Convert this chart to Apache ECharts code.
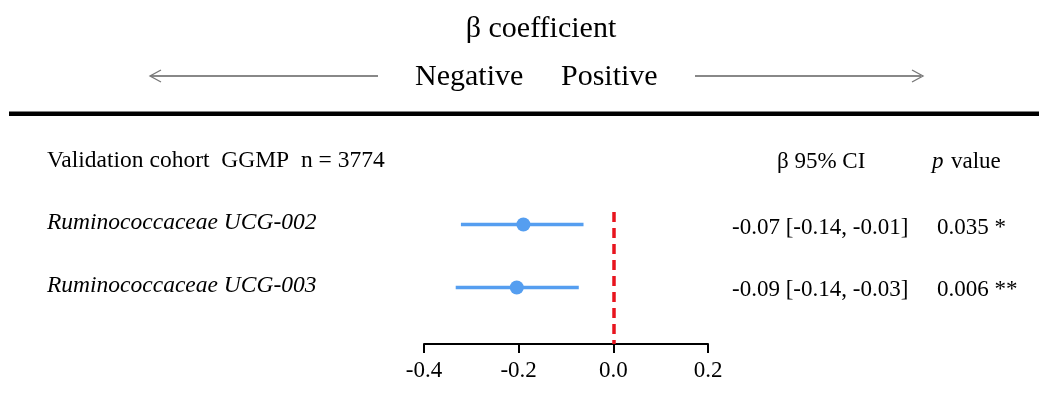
<!DOCTYPE html>
<html><head><meta charset="utf-8">
<script src="https://cdn.jsdelivr.net/npm/echarts@6/dist/echarts.min.js"></script>
<style>html,body{margin:0;padding:0;background:#fff}#c{width:1039px;height:403px}</style>
</head><body><div id="c"></div>
<script>
// ---- data ----
const rowNames = ['Ruminococcaceae UCG-002', 'Ruminococcaceae UCG-003'];
const estimates = [-0.190, -0.204];
const ciLower = [-0.322, -0.333];
const ciUpper = [-0.063, -0.073];
const ciText = ['-0.07 [-0.14, -0.01]', '-0.09 [-0.14, -0.03]'];
const pText = ['0.035 *', '0.006 **'];
const headerLeft = 'Validation cohort  GGMP  n = 3774';
const headerCI = 'β 95% CI';
const titleText = 'β coefficient';
const negText = 'Negative';
const posText = 'Positive';

// ---- chart ----
const FONT = '"Liberation Serif","Times New Roman",serif';
const BLUE = '#559ef0';
const rows = rowNames.map((n, i) => i);
const chart = echarts.init(document.getElementById('c'), null, {renderer: 'canvas'});

function txt(text, x, y, size, opts) {
  opts = opts || {};
  return {
    type: 'text', silent: true,
    style: {
      text: text, x: x, y: y,
      font: (opts.italic ? 'italic ' : '') + size + 'px ' + FONT,
      fill: '#000',
      textAlign: opts.align || 'left', align: opts.align || 'left',
      textVerticalAlign: 'middle', verticalAlign: 'middle'
    }
  };
}

const option = {
  animation: false,
  backgroundColor: '#fff',
  grid: {left: 424, right: 331, top: 212, bottom: 59, containLabel: false},
  xAxis: {
    type: 'value', min: -0.4, max: 0.2, interval: 0.2,
    axisLine: {show: true, onZero: false, lineStyle: {color: '#000', width: 2}},
    axisTick: {show: true, length: 9, lineStyle: {color: '#000', width: 2}},
    axisLabel: {color: '#000', fontFamily: FONT, fontSize: 23, margin: 15,
      formatter: v => (Math.abs(v) < 1e-9 ? 0 : v).toFixed(1)},
    splitLine: {show: false}
  },
  yAxis: {type: 'value', inverse: true, min: -0.2, max: 1.9, show: false},
  graphic: [
    txt(titleText, 541, 29, 30, {align: 'center'}),
    txt(negText, 415, 77, 30),
    txt(posText, 561, 77, 30),
    {type: 'line', silent: true, shape: {x1: 151, y1: 76, x2: 378, y2: 76}, style: {stroke: '#888', lineWidth: 1.8}},
    {type: 'polyline', silent: true, shape: {points: [[161, 70], [150, 76], [161, 82]]}, style: {stroke: '#777', lineWidth: 1.3, fill: null}},
    {type: 'line', silent: true, shape: {x1: 695, y1: 76, x2: 921, y2: 76}, style: {stroke: '#888', lineWidth: 1.8}},
    {type: 'polyline', silent: true, shape: {points: [[912, 70], [923, 76], [912, 82]]}, style: {stroke: '#777', lineWidth: 1.3, fill: null}},
    {type: 'rect', silent: true, shape: {x: 9, y: 111.5, width: 1030, height: 4.5}, style: {fill: '#000'}},
    txt(headerLeft, 47, 161, 23.5),
    txt(headerCI, 777, 162, 23),
    txt('p', 932, 162, 23, {italic: true}),
    txt('value', 951, 162, 23)
  ],
  series: [
    {
      type: 'custom', z: 2, clip: false,
      data: rows.map(i => [ciLower[i], ciUpper[i], i]),
      renderItem: (p, api) => {
        const a = api.coord([api.value(0), api.value(2)]);
        const b = api.coord([api.value(1), api.value(2)]);
        return {type: 'line', shape: {x1: a[0], y1: a[1], x2: b[0], y2: b[1]},
          style: {stroke: BLUE, lineWidth: 3.5}};
      }
    },
    {
      type: 'scatter', z: 3, symbol: 'circle', symbolSize: 14,
      itemStyle: {color: BLUE, opacity: 1},
      data: rows.map(i => [estimates[i], i]),
      markLine: {
        silent: true, symbol: 'none', label: {show: false},
        lineStyle: {color: '#e8141e', type: [10, 6], width: 3.5},
        data: [{xAxis: 0}]
      }
    },
    {
      type: 'custom', z: 4, clip: false,
      data: rows.map(i => [0, i]),
      renderItem: (p, api) => {
        const i = p.dataIndex;
        const y = api.coord([0, api.value(1)])[1];
        return {type: 'group', children: [
          txt(rowNames[i], 47, y - 1.5, 23.5, {italic: true}),
          txt(ciText[i], 732, y + 3, 23),
          txt(pText[i], 937, y + 3, 23)
        ]};
      }
    }
  ]
};
chart.setOption(option);
</script>
</body></html>
